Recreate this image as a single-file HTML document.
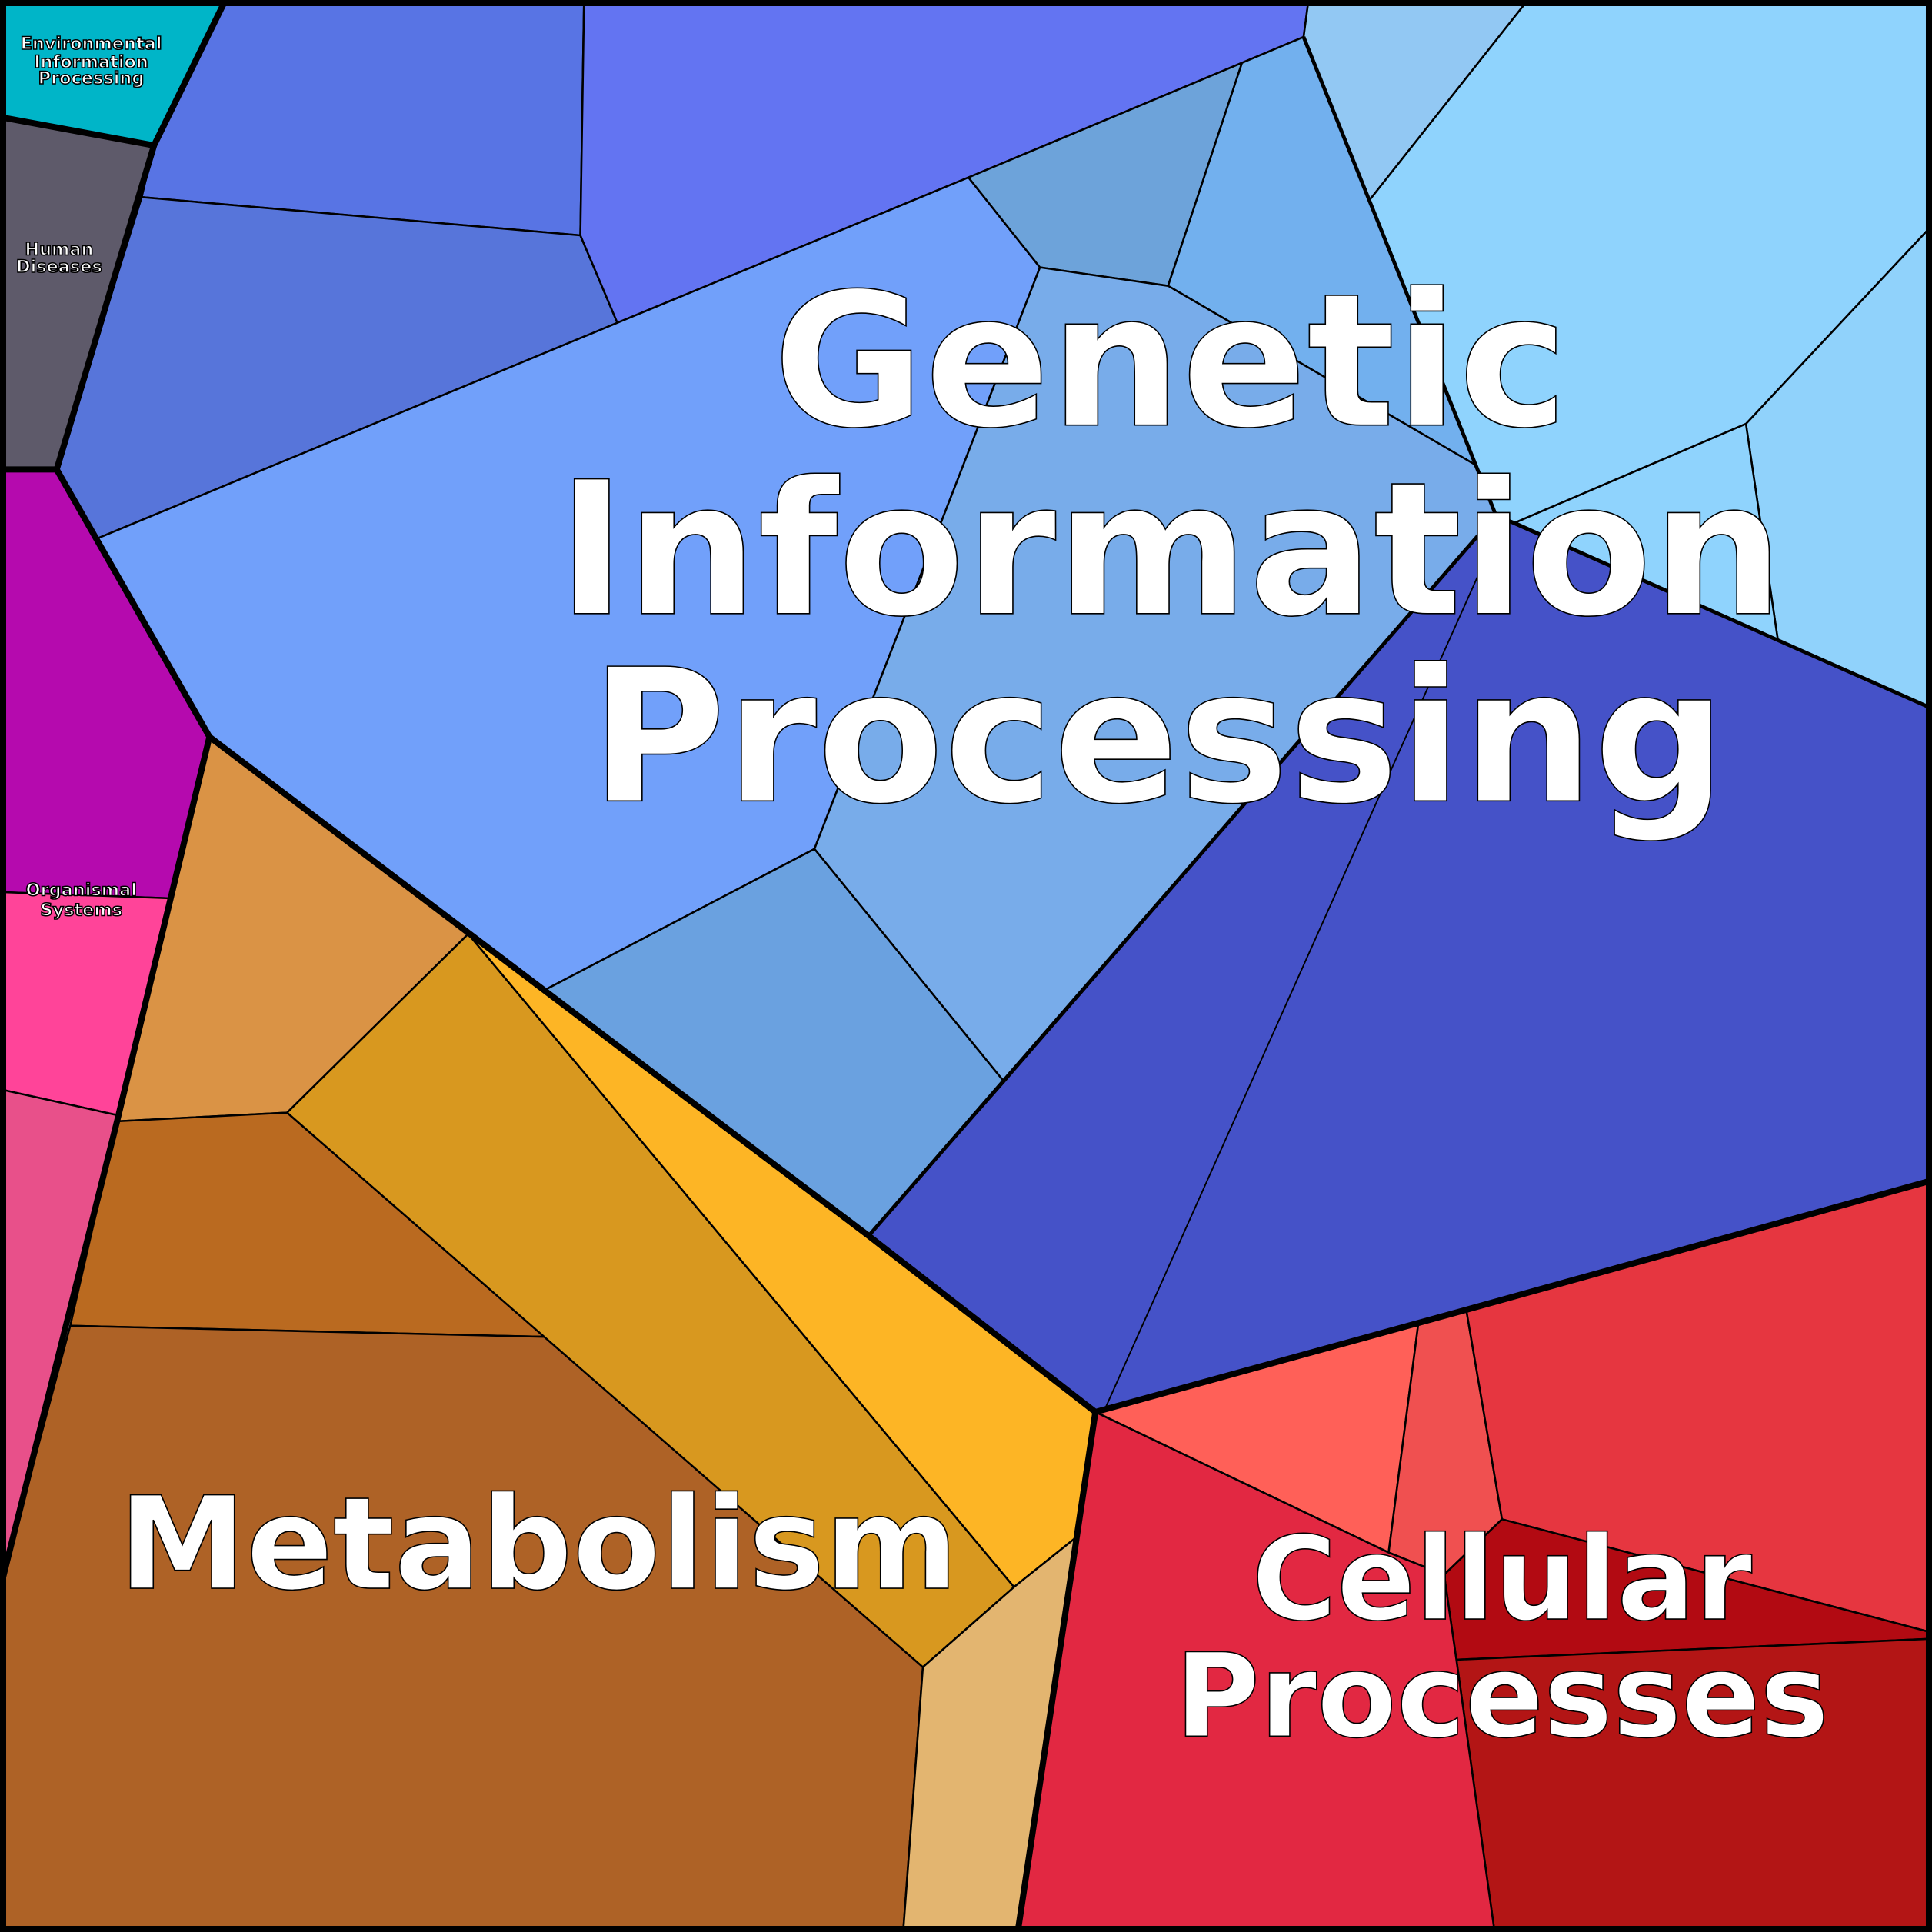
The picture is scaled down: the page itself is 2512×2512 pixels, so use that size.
<!DOCTYPE html>
<html><head><meta charset="utf-8"><style>html,body{margin:0;padding:0;background:#fff}svg{display:block}
text{font-family:"DejaVu Sans","Liberation Sans",sans-serif;font-weight:bold;fill:#fff;stroke:#000;stroke-width:1;text-anchor:middle}
</style></head><body>
<svg width="2512" height="2512" viewBox="0 0 1568 1568" xmlns="http://www.w3.org/2000/svg">
<g stroke="#000" stroke-width="1.6" stroke-linejoin="round">
<polygon fill="#00B5C8" points="0,0 183,0 125,118 0,95"/>
<polygon fill="#5E5A6A" points="0,95 125,118 46,381 0,381"/>
<polygon fill="#B50AAE" points="0,381 46,381 170,598 137,729 0,724"/>
<polygon fill="#FF4499" points="0,724 137,729 95,905 0,884"/>
<polygon fill="#E8508A" points="0,884 95,905 0,1290"/>
<polygon fill="#DA9345" points="170,598 380,758 233,903 95,910"/>
<polygon fill="#BA6A20" points="95,910 233,903 443,1085 57,1076"/>
<polygon fill="#AE6226" points="57,1076 443,1085 749,1353 733,1568 0,1568 0,1290"/>
<polygon fill="#D8981F" points="233,903 380,758 823,1288 749,1353"/>
<polygon fill="#FDB525" points="380,758 705,1003 889,1146 873,1248 823,1288"/>
<polygon fill="#E3B570" points="823,1288 873,1248 826,1568 733,1568 749,1353"/>
<polygon fill="#5874E4" points="183,0 474,0 471,191 115,160 125,118"/>
<polygon fill="#5775DA" points="115,160 471,191 501,262 79,437 46,381"/>
<polygon fill="#6374F2" points="474,0 1062,0 1058,30 786,144 501,262 471,191"/>
<polygon fill="#71A0FA" points="79,437 501,262 786,144 844,217 661,689 443,803 170,598"/>
<polygon fill="#6DA3DA" points="786,144 1008,51 948,232 844,217"/>
<polygon fill="#72B0EE" points="1008,51 1058,30 1111,163 1197,377 948,232"/>
<polygon fill="#78ACEA" points="844,217 948,232 1197,377 1214,418 815,878 661,689"/>
<polygon fill="#6AA1E0" points="443,803 661,689 815,878 705,1003"/>
<polygon fill="#4552C8" points="705,1003 815,878 1214,418 1443,520 1568,575 1568,958 1190,1063 889,1146"/>
<polygon fill="#92C8F3" points="1062,0 1240,0 1111,163 1058,30"/>
<polygon fill="#8FD3FD" points="1240,0 1568,0 1568,183 1417,344 1230,424 1214,418 1111,163"/>
<polygon fill="#90D2FB" points="1568,183 1568,575 1443,520 1417,344"/>
<polygon fill="#8FD3FD" points="1417,344 1443,520 1230,424"/>
<polygon fill="#FF6058" points="889,1146 1151,1075 1127,1260"/>
<polygon fill="#F05050" points="1151,1075 1190,1063 1219,1233 1172,1278 1127,1260"/>
<polygon fill="#E63640" points="1190,1063 1568,958 1568,1325 1219,1233"/>
<polygon fill="#B20A12" points="1219,1233 1568,1325 1568,1330 1182,1347 1172,1278"/>
<polygon fill="#B31515" points="1182,1347 1568,1330 1568,1568 1213,1568"/>
<polygon fill="#E22842" points="889,1146 1127,1260 1172,1278 1182,1347 1213,1568 826,1568 873,1248"/>
</g>
<g stroke="#000" stroke-width="1.2" fill="none">
<line x1="1205" y1="455" x2="897" y2="1143"/>
</g>
<g stroke="#000" stroke-width="5" fill="none" stroke-linejoin="round">
<polyline points="183,0 125,118 0,95"/>
<polyline points="125,118 46,381 0,381"/>
<polyline points="46,381 170,598 95,910 0,1290"/>
<polyline points="170,598 705,1003 889,1146 826,1568"/>
<polyline points="889,1146 1190,1063 1568,958"/>
<rect x="2.5" y="2.5" width="1563" height="1563"/>
</g>
<g stroke="#000" stroke-width="3" fill="none" stroke-linejoin="round">
<polyline points="705,1003 1214,418 1568,575"/>
<polyline points="1058,30 1214,418"/>
</g>
<text x="950" y="345" font-size="150">Genetic</text>
<text x="950" y="498" font-size="150">Information</text>
<text x="940" y="650" font-size="150">Processing</text>
<text x="437" y="1289" font-size="104">Metabolism</text>
<text x="1219" y="1314" font-size="94">Cellular</text>
<text x="1219" y="1409" font-size="94">Processes</text>
<g style="font-size:14px;stroke-width:0.8">
<text x="74" y="40">Environmental</text>
<text x="74" y="55">Information</text>
<text x="74" y="68">Processing</text>
<text x="48" y="207">Human</text>
<text x="48" y="221">Diseases</text>
<text x="66" y="727">Organismal</text>
<text x="66" y="743">Systems</text>
</g>
</svg>
</body></html>
